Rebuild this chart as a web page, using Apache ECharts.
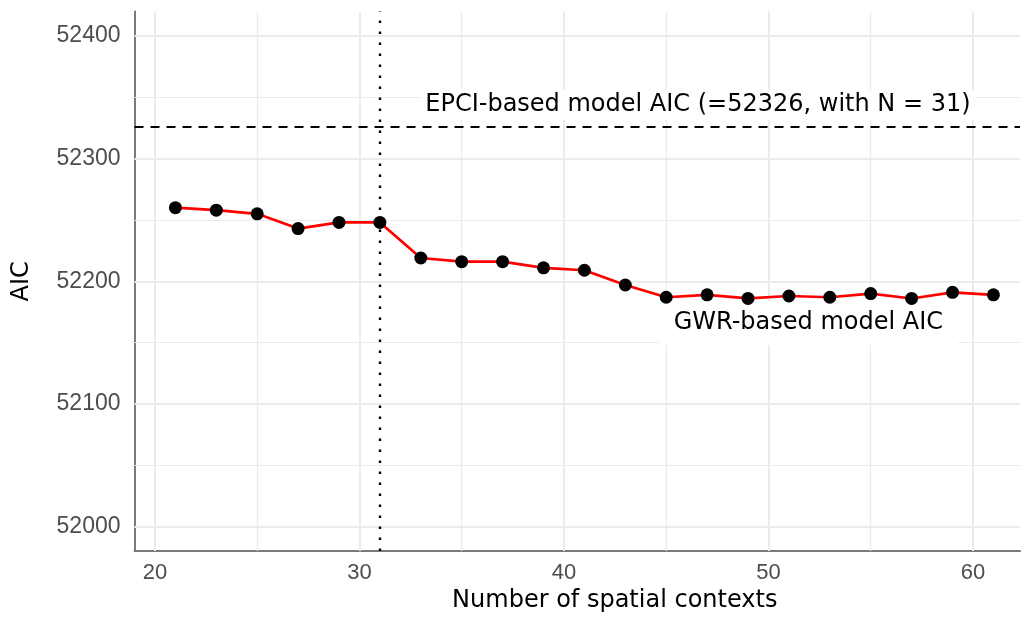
<!DOCTYPE html>
<html>
<head>
<meta charset="utf-8">
<script src="https://cdn.jsdelivr.net/npm/echarts@6/dist/echarts.min.js"></script>
<style>html,body{margin:0;padding:0;background:#fff}#c{width:1022px;height:618px}</style>
</head>
<body>
<div id="c"></div>
<script>
const contexts = [21,23,25,27,29,31,33,35,37,39,41,43,45,47,49,51,53,55,57,59,61];
const aicValues = [52260,52258,52255,52243,52248,52248,52219,52216,52216,52211,52209,52197,52187,52189,52186,52188,52187,52190,52186,52191,52189];
const epciAIC = 52326;
const epciN = 31;
const xTicks = [20,30,40,50,60];
const xMinor = [25,35,45,55];
const yTicks = [52000,52100,52200,52300,52400];
const yMinor = [52050,52150,52250,52350];
const epciText = 'EPCI-based model AIC (=52326, with N = 31)';
const gwrText = 'GWR-based model AIC';

const chart = echarts.init(document.getElementById('c'));
const gridColor = '#ebebeb';
const X0 = 19, X1 = 62.3, Y0 = 51980, Y1 = 52420;
const gridLines = [];
xTicks.forEach(v => gridLines.push([{coord:[v,Y0],lineStyle:{width:2}},{coord:[v,Y1]}]));
xMinor.forEach(v => gridLines.push([{coord:[v,Y0],lineStyle:{width:1.2}},{coord:[v,Y1]}]));
yTicks.forEach(v => gridLines.push([{coord:[X0,v],lineStyle:{width:2}},{coord:[X1,v]}]));
yMinor.forEach(v => gridLines.push([{coord:[X0,v],lineStyle:{width:1.2}},{coord:[X1,v]}]));

const annLabel = {show:true,position:'inside',color:'#000',fontSize:24,fontFamily:'DejaVu Sans'};

chart.setOption({
  animation:false,
  backgroundColor:'#fff',
  textStyle:{fontFamily:'DejaVu Sans'},
  grid:{left:134.5,right:2,top:11.5,bottom:66.5},
  xAxis:{type:'value',min:X0,max:X1,
    name:'Number of spatial contexts',nameLocation:'middle',nameGap:37,
    nameTextStyle:{color:'#000',fontSize:24,fontFamily:'DejaVu Sans',padding:[0,0,0,75]},
    axisLine:{show:true,onZero:false,lineStyle:{color:'#7a7a7a',width:2}},
    axisTick:{show:false},splitLine:{show:false},
    axisLabel:{customValues:xTicks,color:'#4d4d4d',fontSize:22,fontFamily:'Liberation Sans',margin:11,
      formatter:v=>String(v)}},
  yAxis:{type:'value',min:Y0,max:Y1,
    name:'AIC',nameLocation:'middle',nameGap:101,
    nameTextStyle:{color:'#000',fontSize:24,fontFamily:'DejaVu Sans'},
    axisLine:{show:true,onZero:false,lineStyle:{color:'#7a7a7a',width:2}},
    axisTick:{show:false},splitLine:{show:false},
    axisLabel:{customValues:yTicks,color:'#4d4d4d',fontSize:23,fontFamily:'Liberation Sans',margin:14,
      formatter:v=>String(v)}},
  series:[
    {type:'line',data:[],silent:true,z:1,
     markLine:{silent:true,symbol:'none',label:{show:false},lineStyle:{color:gridColor,type:'solid'},data:gridLines}},
    {type:'scatter',data:[],silent:true,z:2,
     markPoint:{silent:true,symbol:'rect',
       data:[
         {coord:[46.55,52344],symbolSize:[556,30],itemStyle:{color:'#fff'},label:Object.assign({formatter:epciText},annLabel)},
         {coord:[51.95,52166],symbolSize:[300,44],itemStyle:{color:'#fff'},label:Object.assign({formatter:gwrText},annLabel)}
       ]}},
    {type:'line',data:[],silent:true,z:3,
     markLine:{silent:true,symbol:'none',label:{show:false},
       data:[
         [{coord:[X0,epciAIC],lineStyle:{color:'#000',type:[9,7],width:2}},{coord:[X1,epciAIC]}],
         [{coord:[epciN,Y0],lineStyle:{color:'#000',type:[2.5,8.5],width:2.4}},{coord:[epciN,Y1]}]
       ]}},
    {type:'line',z:5,data:contexts.map((c,i)=>[c,aicValues[i]]),
     lineStyle:{color:'#ff0000',width:2.7},symbol:'circle',symbolSize:13,
     itemStyle:{color:'#000'}}
  ]
});
</script>
</body>
</html>
